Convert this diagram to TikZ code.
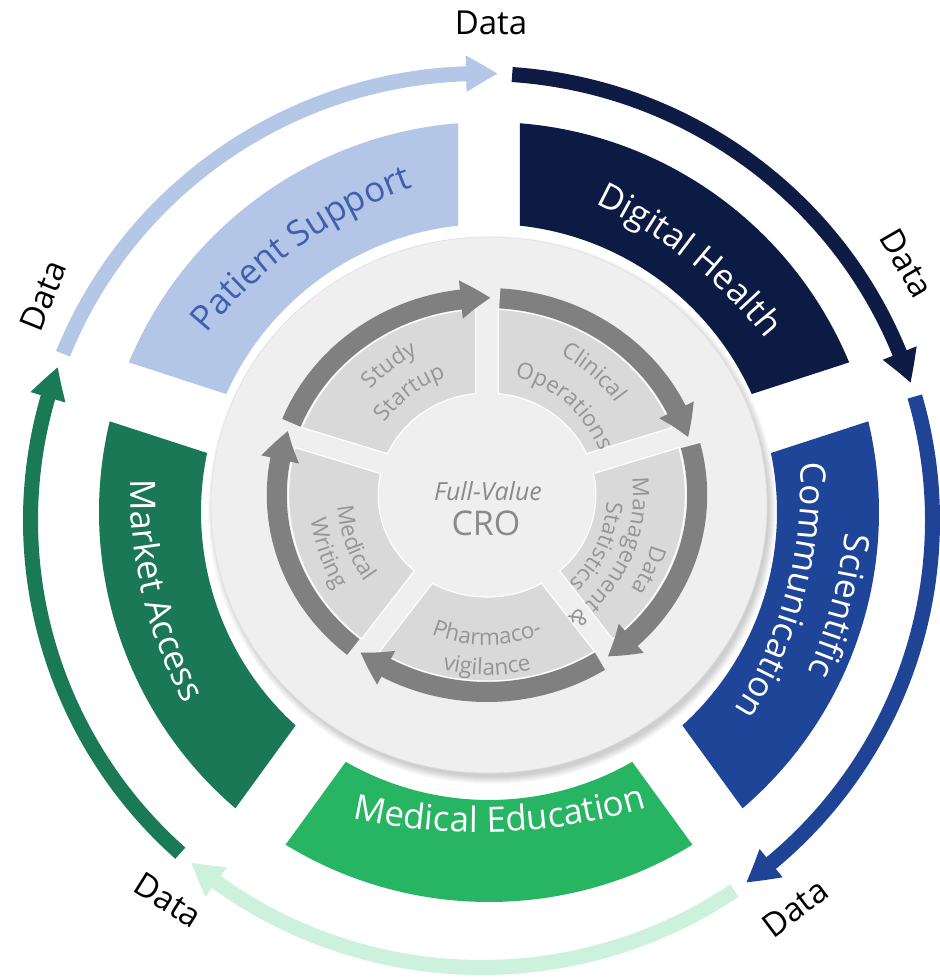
\documentclass[tikz,border=0pt]{standalone}
\usepackage{fontspec}
\setmainfont{Open Sans}
\usetikzlibrary{arrows.meta,bending,decorations.text}
\definecolor{psfill}{HTML}{B4C6E7}
\definecolor{pstext}{HTML}{3F5FAF}
\definecolor{dhfill}{HTML}{0B1B44}
\definecolor{scfill}{HTML}{1E4598}
\definecolor{mefill}{HTML}{27B463}
\definecolor{mafill}{HTML}{1A7856}
\definecolor{arrLB}{HTML}{B4C7E7}
\definecolor{arrNV}{HTML}{0D1B45}
\definecolor{arrBL}{HTML}{1F4496}
\definecolor{arrLG}{HTML}{CCF2DE}
\definecolor{arrDG}{HTML}{1A7A55}
\definecolor{discfill}{HTML}{EFEFEF}
\definecolor{segfill}{HTML}{D9D9D9}
\definecolor{innertext}{HTML}{959595}
\definecolor{crotext}{HTML}{8A8A8A}
\definecolor{garrow}{HTML}{808080}
\newcommand{\segf}{\fontsize{35}{35}\selectfont}
\newcommand{\innf}{\fontsize{22.5}{22.5}\selectfont}
\newcommand{\bandseg}[5]{%
  \pgfmathsetmacro{\aA}{#1+36-asin(#4/#3)}%
  \pgfmathsetmacro{\aB}{#1-36+asin(#4/#3)}%
  \pgfmathsetmacro{\aC}{#1-36+asin(#4/#2)}%
  \pgfmathsetmacro{\aD}{#1+36-asin(#4/#2)}%
  \path[#5] (\aA:#3) arc[start angle=\aA, end angle=\aB, radius=#3] -- (\aC:#2) arc[start angle=\aC, end angle=\aD, radius=#2] -- cycle;%
}
% #1,#2 centre; #3 angle; #4 baseline radius; #5 arc radius; #6 half span; #7 decoration options
\newcommand{\cwtext}[7]{%
  \pgfmathsetmacro{\tcx}{#1+(#4-#5)*cos(#3)}%
  \pgfmathsetmacro{\tcy}{#2+(#4-#5)*sin(#3)}%
  \pgfmathsetmacro{\tsa}{#3+#6}%
  \pgfmathsetmacro{\tea}{#3-#6}%
  \path[decorate, decoration={text along path, text align=center, #7}] ([shift={(\tcx,\tcy)}]\tsa:#5) arc[start angle=\tsa, end angle=\tea, radius=#5];%
}
\newcommand{\ccwtext}[7]{%
  \pgfmathsetmacro{\tcx}{#1+(#4-#5)*cos(#3)}%
  \pgfmathsetmacro{\tcy}{#2+(#4-#5)*sin(#3)}%
  \pgfmathsetmacro{\tsa}{#3-#6}%
  \pgfmathsetmacro{\tea}{#3+#6}%
  \path[decorate, decoration={text along path, text align=center, #7}] ([shift={(\tcx,\tcy)}]\tsa:#5) arc[start angle=\tsa, end angle=\tea, radius=#5];%
}
\tikzset{
  outarrow/.style={line width=15pt, -{Triangle[width=34pt,length=32pt,bend]}},
  inarrow/.style={line width=20pt, draw=garrow, -{Triangle[width=36pt,length=30pt,bend]}},
  datalabel/.style={font=\fontsize{33}{33}\selectfont, text=black, inner sep=0pt},
}
\begin{document}
\begin{tikzpicture}[x=1pt,y=1pt]
\useasboundingbox (-489,-467) rectangle (450,512);
\fill[white] (-489,-467) rectangle (450,512);

% outer data arrows
\draw[outarrow, draw=arrLB] ([shift={(-7.5,-8.5)}]158.1:451 and 447) arc[start angle=158.1, end angle=87.9, x radius=451, y radius=447];
\draw[outarrow, draw=arrNV] ([shift={(-7.5,-8.5)}]86.1:451 and 447) arc[start angle=86.1, end angle=17.9, x radius=451, y radius=447];
\draw[outarrow, draw=arrBL] ([shift={(-7.5,-8.5)}]16.1:451 and 447) arc[start angle=16.1, end angle=-54.1, x radius=451, y radius=447];
\draw[outarrow, draw=arrLG] ([shift={(-7.5,-8.5)}]-55.9:451 and 447) arc[start angle=-55.9, end angle=-130.1, x radius=451, y radius=447];
\draw[outarrow, draw=arrDG] ([shift={(-7.5,-8.5)}]-131.9:451 and 447) arc[start angle=-131.9, end angle=-200.1, x radius=451, y radius=447];

% coloured band
\bandseg{126}{288}{390}{31}{fill=psfill}
\bandseg{54}{288}{390}{31}{fill=dhfill}
\bandseg{-18}{288}{390}{31}{fill=scfill}
\bandseg{-90}{288}{390}{31}{fill=mefill}
\bandseg{198}{288}{390}{31}{fill=mafill}

\cwtext{0}{0}{125.4}{326}{480}{40}{text color=pstext, text={|\segf|Patient Support}}
\cwtext{0}{0}{51.5}{320}{480}{40}{text color=white, text={|\segf|Digital Health}}
\cwtext{0}{0}{-15}{355}{460}{40}{text color=white, text={|\segf|Scientific}}
\cwtext{0}{0}{-15}{308}{410}{40}{text color=white, text={|\segf|Communication}}
\ccwtext{0}{0}{-88}{320}{580}{35}{text color=white, text={|\segf|Medical Education}}
\ccwtext{0}{0}{193.5}{356}{450}{40}{text color=white, text={|\segf|Market Access}}

% disc with shadow
\foreach \i in {1,...,8}
  \fill[black, opacity=0.025] (3,2) ellipse [x radius=276+\i, y radius=266+\i];
\fill[discfill] (0,7) ellipse [x radius=278, y radius=268];
\draw[black!12, line width=0.6pt] (0,7) ellipse [x radius=278, y radius=268];

% inner ring
\begin{scope}[shift={(-2,17)}, xscale=1.067]
\bandseg{126}{102}{186}{10.5}{fill=segfill, draw=white, line width=1.2pt}
\bandseg{54}{102}{186}{10.5}{fill=segfill, draw=white, line width=1.2pt}
\bandseg{-18}{102}{186}{10.5}{fill=segfill, draw=white, line width=1.2pt}
\bandseg{-90}{102}{186}{10.5}{fill=segfill, draw=white, line width=1.2pt}
\bandseg{198}{102}{186}{10.5}{fill=segfill, draw=white, line width=1.2pt}
\draw[inarrow] (158.5:197) arc[start angle=158.5, end angle=89, radius=197];
\draw[inarrow] (86.5:197) arc[start angle=86.5, end angle=17, radius=197];
\draw[inarrow] (14.5:197) arc[start angle=14.5, end angle=-55, radius=197];
\draw[inarrow] (-57.5:197) arc[start angle=-57.5, end angle=-127, radius=197];
\draw[inarrow] (-129.5:197) arc[start angle=-129.5, end angle=-199, radius=197];
\end{scope}

% inner labels
\cwtext{-2}{17}{127}{157}{157}{70}{text color=innertext, text={|\innf|Study}}
\cwtext{-2}{17}{127}{125}{125}{70}{text color=innertext, text={|\innf|Startup}}
\cwtext{-2}{17}{49}{158}{158}{70}{text color=innertext, text={|\innf|Clinical}}
\cwtext{-2}{17}{49}{121}{121}{70}{text color=innertext, text={|\innf|Operations}}
\cwtext{-2}{17}{-25}{172}{172}{70}{text color=innertext, text={|\innf|Data}}
\cwtext{-2}{17}{-25}{146}{146}{70}{text color=innertext, text={|\innf|Management {\&}}}
\cwtext{-2}{17}{-25}{120}{120}{70}{text color=innertext, text={|\innf|Statistics}}
\ccwtext{-2}{17}{-90}{150}{150}{70}{text color=innertext, text={|\innf|Pharmaco-}}
\ccwtext{-2}{17}{-90}{180}{180}{70}{text color=innertext, text={|\innf|vigilance}}
\ccwtext{-2}{17}{200}{150}{150}{70}{text color=innertext, text={|\innf|Medical}}
\ccwtext{-2}{17}{200}{178}{178}{70}{text color=innertext, text={|\innf|Writing}}

\node[font=\itshape\fontsize{25}{25}\selectfont, text=crotext, inner sep=0pt] (fv) at (-1,21) {Full-Value};
\node[font=\fontsize{34}{34}\selectfont, text=crotext, inner sep=0pt] (cro) at (-3,-11) {CRO};

% data labels
\node[datalabel] (d1) at (2,489) {Data};
\node[datalabel, rotate=-60] (d2) at (418,249) {Data};
\node[datalabel, rotate=37] (d3) at (306,-396) {Data};
\node[datalabel, rotate=-32] (d4) at (-321,-388) {Data};
\node[datalabel, rotate=68] (d5) at (-446,216) {Data};
\end{tikzpicture}
\end{document}
